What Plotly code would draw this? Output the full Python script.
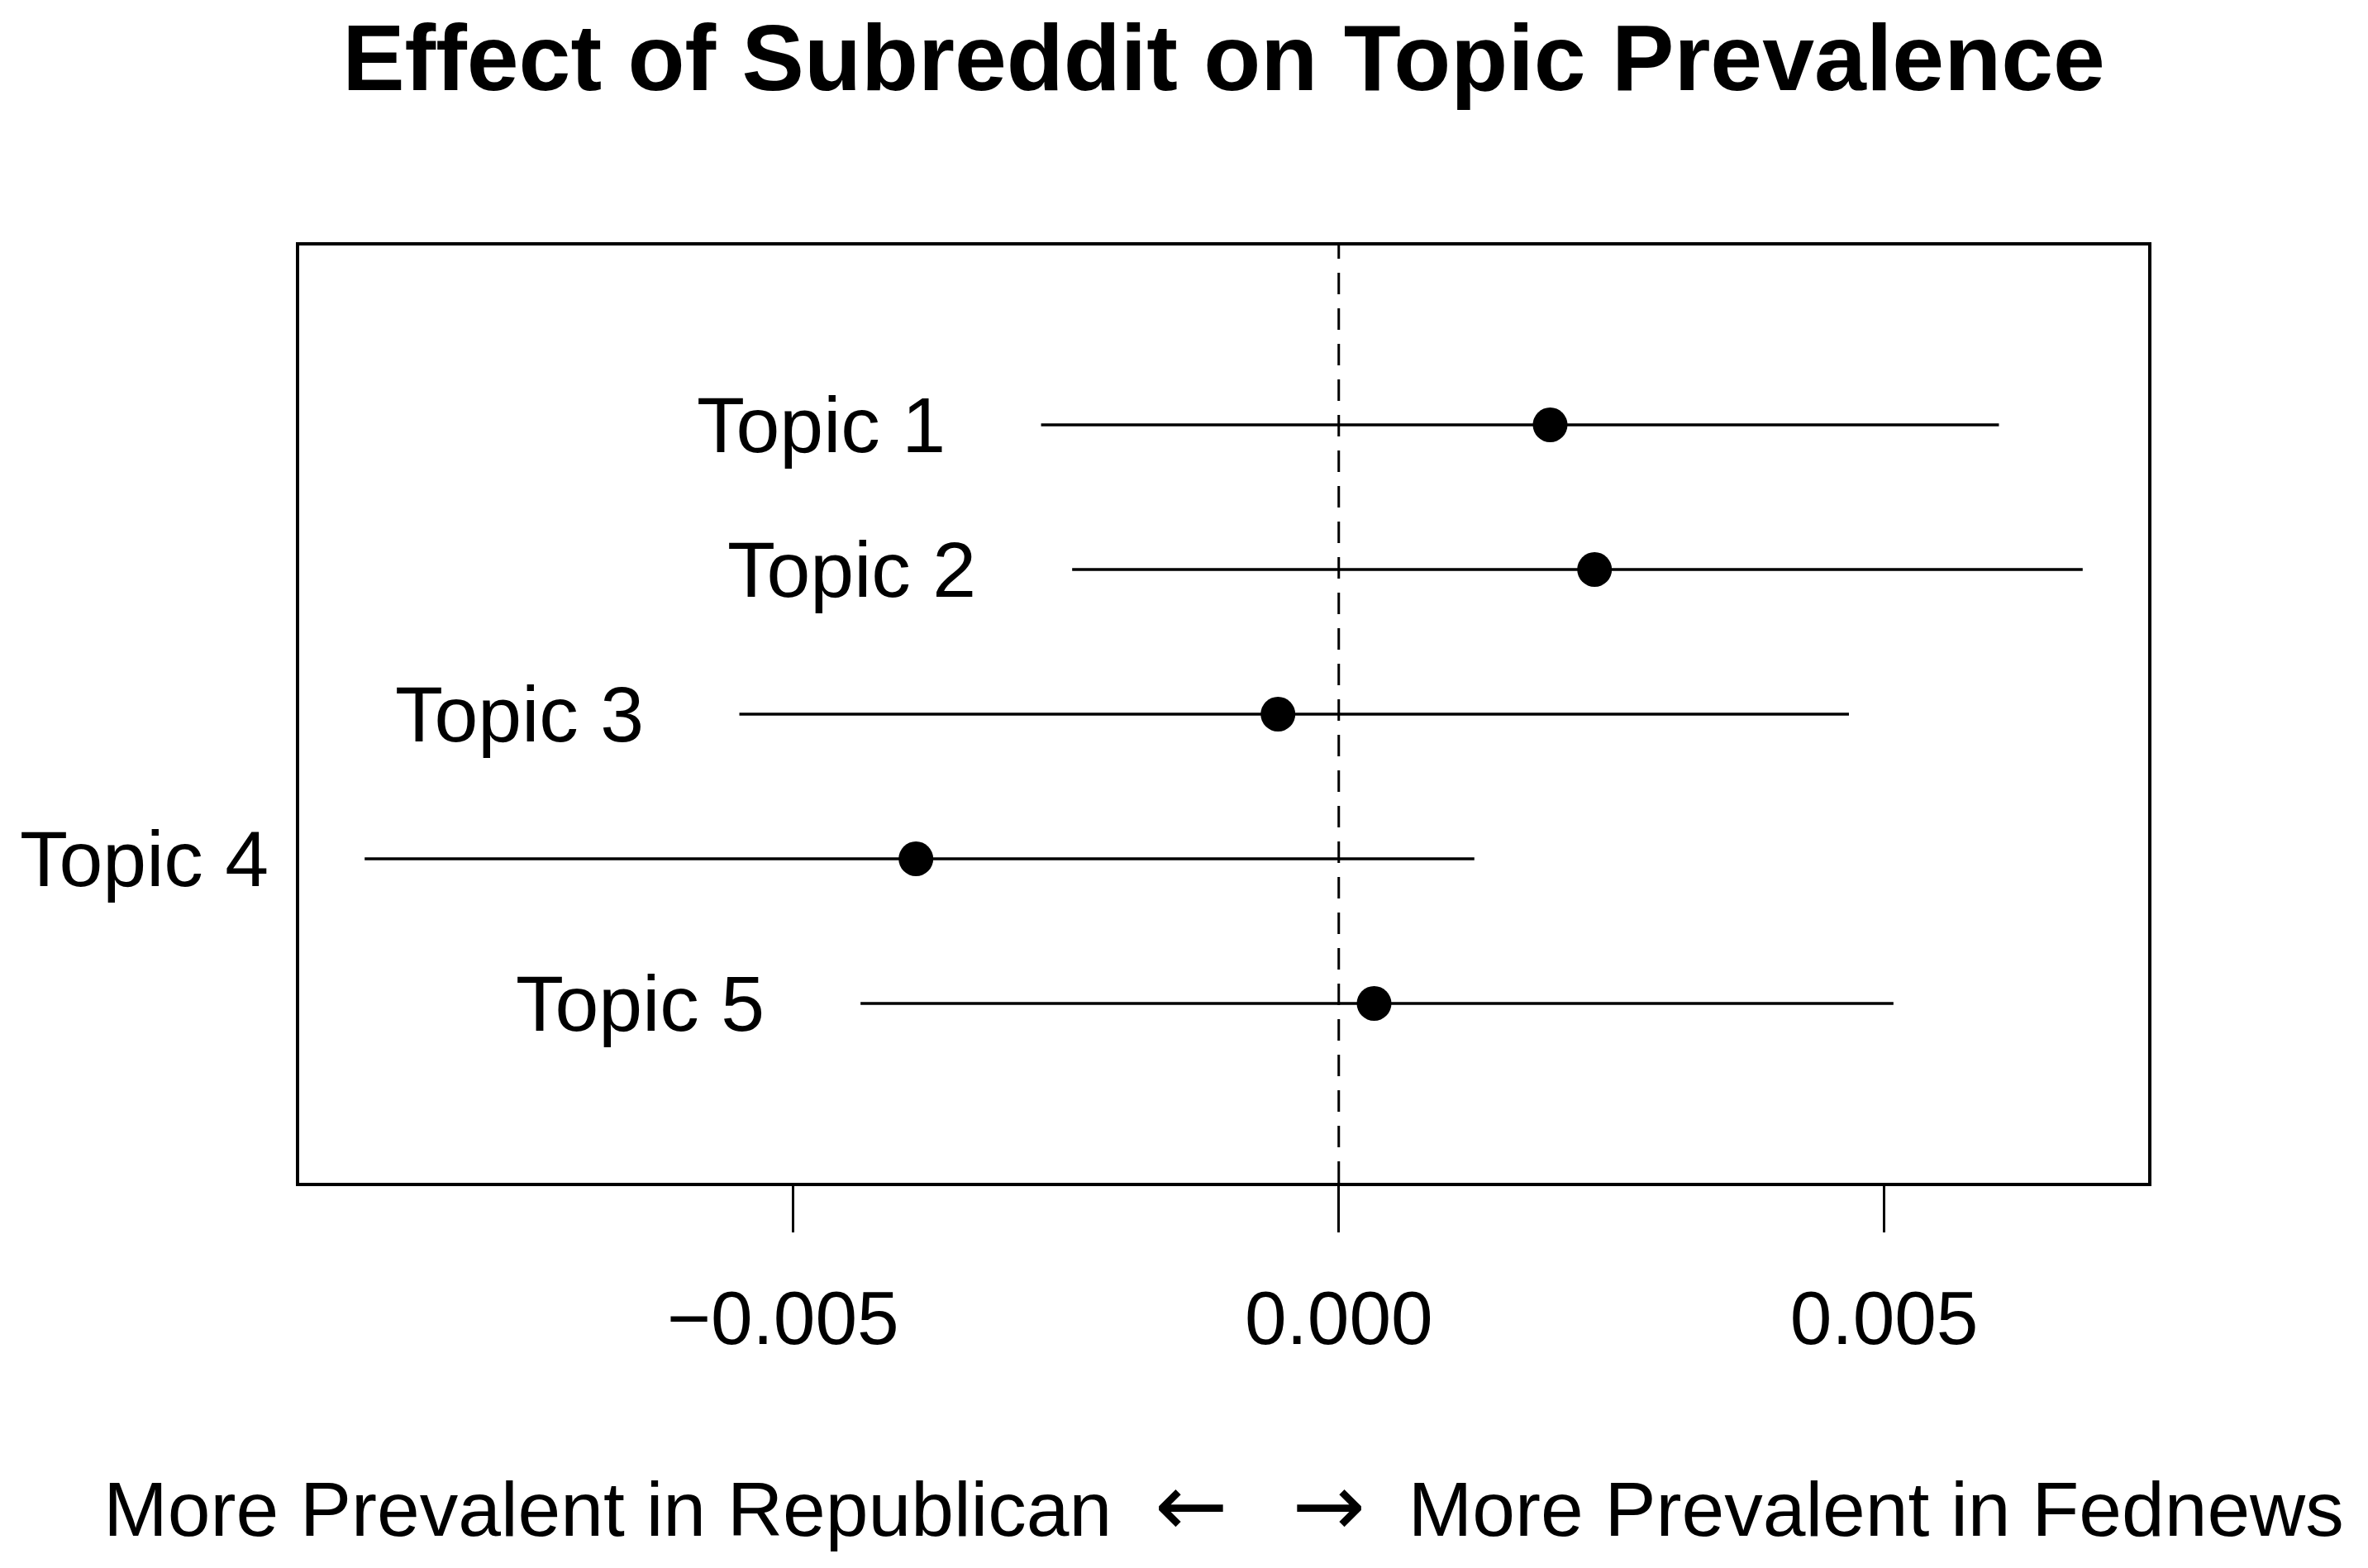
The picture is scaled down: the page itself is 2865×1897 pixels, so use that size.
import plotly.graph_objects as go

# point estimates and 95% intervals
topics = ["Topic 1", "Topic 2", "Topic 3", "Topic 4", "Topic 5"]
positions = [1, 2, 3, 4, 5]
estimate = [0.001938, 0.002345, -0.000557, -0.003876, 0.000324]
ci_lower = [-0.002729, -0.002444, -0.005495, -0.008930, -0.004384]
ci_upper = [0.006052, 0.006820, 0.004677, 0.001243, 0.005085]

x_ticks = [-0.005, 0.0, 0.005]
x_tick_labels = ["\u22120.005\u00a0", "0.000", "0.005"]
x_range = [-0.00953, 0.00742]
y_range = [6.24, -0.24]

FONT = "Liberation Sans, Arial, sans-serif"
ARROW = '<span style="font-family:DejaVu Sans;font-size:106px">{}</span>'

fig = go.Figure()

fig.add_vline(x=0, line=dict(color="black", width=3, dash="26px,17px"))

fig.add_trace(
    go.Scatter(
        x=estimate,
        y=positions,
        mode="markers",
        marker=dict(color="black", size=42),
        error_x=dict(
            type="data",
            symmetric=False,
            array=[hi - e for hi, e in zip(ci_upper, estimate)],
            arrayminus=[e - lo for lo, e in zip(ci_lower, estimate)],
            width=0,
            thickness=3.5,
            color="black",
        ),
        hoverinfo="skip",
    )
)

for name, pos, lo in zip(topics, positions, ci_lower):
    fig.add_annotation(
        x=lo,
        y=pos,
        text=name,
        showarrow=False,
        xanchor="right",
        yanchor="middle",
        xshift=-114,
        yshift=0,
        font=dict(family=FONT, size=95, color="black"),
    )

x_title = (
    "More Prevalent in Republican\u00a0\u00a0"
    + ARROW.format("←")
    + "\u00a0\u00a0\u00a0"
    + ARROW.format("→")
    + "\u00a0\u00a0More Prevalent in Fednews"
)

fig.update_xaxes(
    range=x_range,
    tickmode="array",
    tickvals=x_ticks,
    ticktext=x_tick_labels,
    ticks="outside",
    ticklen=56,
    tickwidth=3,
    tickcolor="black",
    showline=True,
    linecolor="black",
    linewidth=4,
    mirror=True,
    showgrid=False,
    zeroline=False,
    tickfont=dict(family=FONT, size=91, color="black"),
    ticklabelstandoff=26,
    title=dict(
        text=x_title,
        font=dict(family=FONT, size=93, color="black"),
        standoff=150,
    ),
)
fig.update_yaxes(
    range=y_range,
    showticklabels=False,
    ticks="",
    showline=True,
    linecolor="black",
    linewidth=4,
    mirror=True,
    showgrid=False,
    zeroline=False,
)

fig.update_layout(
    width=2857,
    height=1889,
    margin=dict(l=354, r=266, t=289, b=466),
    paper_bgcolor="white",
    plot_bgcolor="white",
    showlegend=False,
    title=dict(
        text="<b>Effect of Subreddit on Topic Prevalence</b>",
        font=dict(family=FONT, size=113, color="black"),
        x=0.5,
        xref="paper",
        xanchor="center",
        y=1 - 61 / 1889,
        yref="container",
        yanchor="middle",
    ),
)

fig.write_html("out.html")
